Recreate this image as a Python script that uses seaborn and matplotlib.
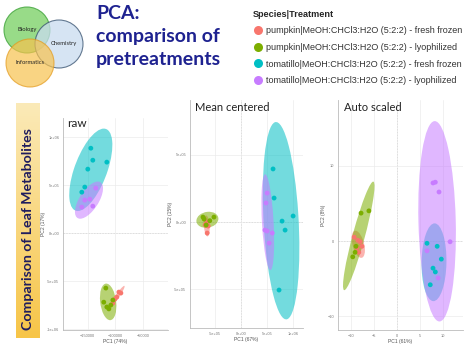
import numpy as np
import pandas as pd
import matplotlib
matplotlib.use('Agg')
import matplotlib.pyplot as plt
from matplotlib.patches import Ellipse, Circle
from matplotlib.lines import Line2D
import matplotlib.colors as mcolors
import seaborn as sns

sns.set_theme(style='white')
plt.rcParams['font.family'] = ['Liberation Sans', 'DejaVu Sans']

# %% data
groups = ['pumpkin|MeOH:CHCl3:H2O (5:2:2) - fresh frozen',
          'pumpkin|MeOH:CHCl3:H2O (5:2:2) - lyophilized',
          'tomatillo|MeOH:CHCl3:H2O (5:2:2) - fresh frozen',
          'tomatillo|MeOH:CHCl3:H2O (5:2:2) - lyophilized']
paleta = ['#F8766D', '#7CAE00', '#00BFC4', '#C77CFF']

# raw
raw_pc1 = [-93600, -90000, -97300, -100900, -104500,
           -117300, -115500, -108200, -111800, -104500, -121000,
           -144500, -140900, -115500, -150000, -155500, -160900,
           -135500, -146400, -155500, -160900, -140900]
raw_pc2 = [-6.15e5, -6.25e5, -6.67e5, -6.88e5, -7.3e5,
           -5.73e5, -7.7e5, -7.5e5, -7.9e5, -6.98e5, -7.2e5,
           8.85e5, 7.6e5, 7.4e5, 6.67e5, 4.8e5, 4.27e5,
           4.69e5, 3.54e5, 3.44e5, 2.71e5, 2.81e5]
raw_n = [5, 6, 6, 5]

# mean centered
mc_pc1 = [-6.5e5, -6.9e5, -6.3e5, -6.5e5, -6.7e5,
          -7.3e5, -7.1e5, -5.2e5, -6.7e5, -6.0e5,
          6.15e5, 6.35e5, 7.88e5, 1.0e6, 8.46e5, 7.3e5,
          5.0e5, 4.8e5, 4.6e5, 5.0e5, 6.0e5, 5.4e5]
mc_pc2 = [0, -0.22e5, -0.3e5, -0.82e5, -0.1e5,
          0.37e5, 0.22e5, 0.37e5, -0.22e5, 0.1e5,
          3.96e5, 1.79e5, 0.07e5, 0.45e5, -0.6e5, -5.07e5,
          2.16e5, 1.42e5, -0.6e5, -0.67e5, -0.82e5, -1.57e5]
mc_n = [5, 5, 6, 6]

# auto scaled
as_pc1 = [-9.3, -8.5, -7.6, -8.3, -8.7, -8.0,
          -7.8, -6.1, -9.6, -9.1, -8.9,
          6.5, 8.7, 9.6, 7.8, 8.3, 7.2,
          7.8, 8.3, 9.1, 11.5, 6.5, 8.9]
as_pc2 = [0.5, 0.1, -0.7, -1.5, -0.9, -0.1,
          3.7, 4.0, -2.1, -1.5, -0.7,
          -0.3, -0.7, -2.4, -3.6, -4.1, -5.8,
          7.7, 7.8, 6.5, -0.1, -1.3, -4.9]
as_n = [6, 5, 6, 6]

# %% helpers
def make_df(pc1, pc2, n):
    grp = sum([[g] * k for g, k in zip(groups, n)], [])
    return pd.DataFrame({'PC1': pc1, 'PC2': pc2, 'group': grp})

def add_ellipses(ax, df, k=2.45):
    for g, col in zip(groups, paleta):
        d = df[df['group'] == g]
        xy = d[['PC1', 'PC2']].values
        mu = xy.mean(axis=0)
        cov = np.cov(xy, rowvar=False)
        vals, vecs = np.linalg.eigh(cov)
        ang = np.degrees(np.arctan2(vecs[1, 1], vecs[0, 1]))
        e = Ellipse(mu, 2 * k * np.sqrt(vals[1]), 2 * k * np.sqrt(vals[0]),
                    angle=ang, facecolor=col, alpha=0.55, edgecolor='none', zorder=1)
        ax.add_patch(e)

def sci(v, pos=None):
    return '{:.0e}'.format(v)

def style_ax(ax, xlab, ylab):
    ax.grid(True, color='#EBEBEB', lw=0.5)
    sns.despine(ax=ax)
    for s in ['left', 'bottom']:
        ax.spines[s].set_color('#BBBBBB')
        ax.spines[s].set_linewidth(0.6)
    ax.axhline(0, color='#AAAAAA', lw=0.5, ls=(0, (2, 2)), zorder=0.5)
    ax.axvline(0, color='#AAAAAA', lw=0.5, ls=(0, (2, 2)), zorder=0.5)
    ax.tick_params(labelsize=2.8, colors='#777777', length=1.2, width=0.4, pad=1.5)
    ax.set_xlabel(xlab, fontsize=3.6, color='#555555', labelpad=1)
    ax.set_ylabel(ylab, fontsize=3.6, color='#555555', labelpad=1)

W, H = 474, 355
fig = plt.figure(figsize=(W / 100, H / 100), dpi=100)

def fax(l, r, t, b):
    return fig.add_axes([l / W, 1 - b / H, (r - l) / W, (b - t) / H])

# %% overlay (slide decoration)
ov = fig.add_axes([0, 0, 1, 1])
ov.set_xlim(0, W)
ov.set_ylim(H, 0)
ov.axis('off')

ov.add_patch(Circle((27, 30), 23, facecolor='#7FD36A', edgecolor='#3FA33A', lw=0.8, alpha=0.8))
ov.add_patch(Circle((59, 44), 24, facecolor='#C9DCF0', edgecolor='#35506E', lw=0.8, alpha=0.75))
ov.add_patch(Circle((30, 63), 24, facecolor='#F7C24E', edgecolor='#E39A1C', lw=0.8, alpha=0.7))
ov.text(27, 30, 'Biology', fontsize=4.2, ha='center', va='center', color='#222222', family=['Lato', 'DejaVu Sans'])
ov.text(64, 44, 'Chemistry', fontsize=4.2, ha='center', va='center', color='#222222', family=['Lato', 'DejaVu Sans'])
ov.text(30, 62, 'Informatics', fontsize=4.2, ha='center', va='center', color='#222222', family=['Lato', 'DejaVu Sans'])

ov.text(96, 5, 'PCA:\ncomparison of\npretreatments', fontsize=14, fontweight='bold',
        color='#1E2290', ha='left', va='top', linespacing=1.42, family=['Lato', 'DejaVu Sans'])

grad = np.linspace(0, 1, 256).reshape(-1, 1)
cmap = mcolors.LinearSegmentedColormap.from_list('band', ['#FBEAB8', '#F7C548'])
ov.imshow(grad, extent=[16, 40, 338, 103], cmap=cmap, aspect='auto', zorder=0)
ov.set_xlim(0, W)
ov.set_ylim(H, 0)
ov.text(28.5, 229, 'Comparison of Leaf Metabolites', rotation=90, fontsize=10.2, fontweight='bold',
        color='#1F1C5E', ha='center', va='center', family=['Lato', 'DejaVu Sans'])

# legend
handles = [Line2D([], [], marker='o', ls='', markersize=6.5, markerfacecolor=c,
                  markeredgecolor='none') for c in paleta]
leg = fig.legend(handles, groups, loc='upper left', bbox_to_anchor=(249 / W, 1 - 6 / H),
                 frameon=False, fontsize=6.5, title='Species|Treatment',
                 title_fontproperties={'weight': 'bold', 'size': 6.6},
                 labelspacing=0.85, handletextpad=0.3, handlelength=1.2, borderaxespad=0)
leg._legend_box.align = 'left'
for t in leg.get_texts():
    t.set_color('#333333')

# %% raw
ax1 = fax(63, 168, 118, 330)
df_raw = make_df(raw_pc1, raw_pc2, raw_n)
add_ellipses(ax1, df_raw)
sns.scatterplot(data=df_raw, x='PC1', y='PC2', hue='group', palette=paleta, hue_order=groups,
                s=12, edgecolor='none', legend=False, ax=ax1, zorder=3)
ax1.set_xlim(-195000, -4500)
ax1.set_ylim(-1.01e6, 1.2e6)
ax1.set_xticks([-150000, -100000, -50000])
ax1.set_yticks([-1e6, -5e5, 0, 5e5, 1e6])
ax1.yaxis.set_major_formatter(plt.FuncFormatter(sci))
style_ax(ax1, 'PC1 (74%)', 'PC2 (17%)')
ax1.text(0.04, 1.0, 'raw', transform=ax1.transAxes, fontsize=8.5, va='top',
         color='#222222', family=['Lato', 'DejaVu Sans'])

# %% mean centered
ax2 = fax(190, 303, 100, 328)
df_mc = make_df(mc_pc1, mc_pc2, mc_n)
add_ellipses(ax2, df_mc)
sns.scatterplot(data=df_mc, x='PC1', y='PC2', hue='group', palette=paleta, hue_order=groups,
                s=12, edgecolor='none', legend=False, ax=ax2, zorder=3)
ax2.set_xlim(-9.8e5, 1.19e6)
ax2.set_ylim(-7.9e5, 9.1e5)
ax2.set_xticks([-5e5, 0, 5e5, 1e6])
ax2.set_yticks([-5e5, 0, 5e5])
ax2.xaxis.set_major_formatter(plt.FuncFormatter(sci))
ax2.yaxis.set_major_formatter(plt.FuncFormatter(sci))
style_ax(ax2, 'PC1 (67%)', 'PC2 (15%)')
ax2.text(0.04, 0.99, 'Mean centered', transform=ax2.transAxes, fontsize=8, va='top',
         color='#222222', family=['Lato', 'DejaVu Sans'])

# %% auto scaled
ax3 = fax(338, 463, 100, 330)
df_as = make_df(as_pc1, as_pc2, as_n)
add_ellipses(ax3, df_as)
sns.scatterplot(data=df_as, x='PC1', y='PC2', hue='group', palette=paleta, hue_order=groups,
                s=12, edgecolor='none', legend=False, ax=ax3, zorder=3)
ax3.set_xlim(-12.8, 14.3)
ax3.set_ylim(-11.8, 18.7)
ax3.set_xticks([-10, -5, 0, 5, 10])
ax3.set_yticks([-10, 0, 10])
style_ax(ax3, 'PC1 (61%)', 'PC2 (8%)')
ax3.text(0.05, 0.99, 'Auto scaled', transform=ax3.transAxes, fontsize=8, va='top',
         color='#222222', family=['Lato', 'DejaVu Sans'])

fig.savefig('out.png', dpi=100)
